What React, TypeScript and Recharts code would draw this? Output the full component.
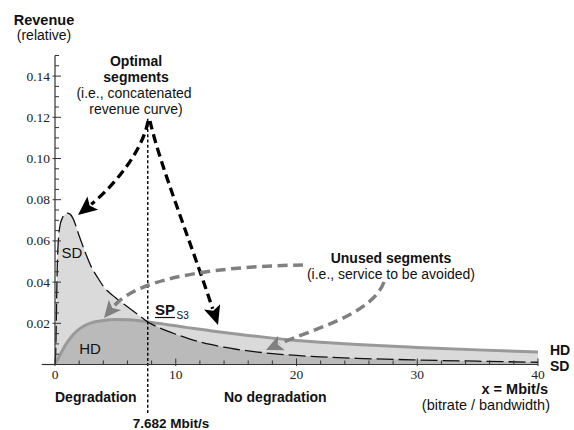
import React from 'react';
import { ComposedChart, Area, Line, XAxis, YAxis, ReferenceLine } from 'recharts';

// bitrate / bandwidth (Mbit/s)
const xValues = [0, 0.05, 0.1, 0.15, 0.2, 0.3, 0.4, 0.6, 0.8, 1, 1.25, 1.5, 2, 2.5, 3, 3.5, 4, 5, 6, 7, 7.682, 8, 9, 10, 11, 12, 13, 14, 15, 16, 18, 20, 22, 25, 30, 35, 40];
// SD revenue (relative)
const sdRevenue = [0, 0.004, 0.018, 0.037, 0.05, 0.062, 0.067, 0.071, 0.0728, 0.0735, 0.073, 0.0708, 0.0625, 0.0545, 0.0475, 0.0425, 0.038, 0.0325, 0.028, 0.0237, 0.0206, 0.0196, 0.0169, 0.0147, 0.0127, 0.011, 0.0096, 0.0084, 0.0074, 0.0066, 0.0053, 0.0044, 0.0037, 0.003, 0.0022, 0.0016, 0.0011];
// HD revenue (relative)
const hdRevenue = [0, 0.0005, 0.0011, 0.0017, 0.0022, 0.0034, 0.0045, 0.0067, 0.0088, 0.0106, 0.0127, 0.0145, 0.0172, 0.019, 0.0202, 0.0209, 0.0214, 0.0218, 0.0217, 0.0212, 0.0207, 0.0204, 0.0196, 0.0188, 0.0179, 0.0171, 0.0163, 0.0155, 0.0148, 0.0141, 0.0128, 0.0117, 0.0108, 0.0097, 0.0083, 0.0071, 0.0061];

const xTicks = [0, 2, 4, 6, 8, 10, 12, 14, 16, 18, 20, 22, 24, 26, 28, 30, 32, 34, 36, 38, 40];
const xMajorTicks = [0, 10, 20, 30, 40];
const yTicks = [0, 0.005, 0.01, 0.015, 0.02, 0.025, 0.03, 0.035, 0.04, 0.045, 0.05, 0.055, 0.06, 0.065, 0.07, 0.075, 0.08, 0.085, 0.09, 0.095, 0.1, 0.105, 0.11, 0.115, 0.12, 0.125, 0.13, 0.135, 0.14, 0.145, 0.15];
const yMajorTicks = [0.02, 0.04, 0.06, 0.08, 0.1, 0.12, 0.14];
const yMajorLabels = ['0.02', '0.04', '0.06', '0.08', '0.10', '0.12', '0.14'];
const switchPoint = 7.682;

const data = xValues.map((x, i) => ({ x, sd: sdRevenue[i], hd: hdRevenue[i] }));

const SERIF = '"Liberation Serif", "DejaVu Serif", serif';
const SANS = '"Liberation Sans", Arial, Helvetica, sans-serif';
const AXIS = '#333';

const XTick = (props: any) => {
  const { x, y, payload } = props;
  const v = payload.value;
  const major = xMajorTicks.some((m) => Math.abs(m - v) < 1e-9);
  return (
    <g>
      <line x1={x} x2={x} y1={major ? y + 1.5 : y} y2={y - (major ? 6 : 4)} stroke={AXIS} strokeWidth={1} />
      {major && (
        <text x={x} y={y + 14.5} textAnchor="middle" fontFamily={SERIF} fontSize={13.5} fill="#222">
          {String(v)}
        </text>
      )}
    </g>
  );
};

const YTick = (props: any) => {
  const { x, y, payload } = props;
  const v = payload.value;
  const idx = yMajorTicks.findIndex((m) => Math.abs(m - v) < 1e-9);
  const major = idx >= 0;
  return (
    <g>
      <line x1={major ? x - 2.5 : x} x2={x + (major ? 6 : 4)} y1={y} y2={y} stroke={AXIS} strokeWidth={1} />
      {major && (
        <text x={x - 5} y={y + 4.5} textAnchor="end" fontFamily={SERIF} fontSize={13.5} fill="#222">
          {yMajorLabels[idx]}
        </text>
      )}
    </g>
  );
};

type Pt = [number, number];
const Arrow = ({ p0, c1, c2, tip, color, width, dash, headLen, headHalf }: { p0: Pt; c1: Pt; c2: Pt; tip: Pt; color: string; width: number; dash: string; headLen: number; headHalf: number }) => {
  const dx = tip[0] - c2[0];
  const dy = tip[1] - c2[1];
  const L = Math.hypot(dx, dy);
  const ux = dx / L;
  const uy = dy / L;
  const bx = tip[0] - ux * headLen;
  const by = tip[1] - uy * headLen;
  const px = -uy;
  const py = ux;
  const d = `M${p0[0]},${p0[1]} C${c1[0]},${c1[1]} ${c2[0]},${c2[1]} ${bx + ux * 2},${by + uy * 2}`;
  return (
    <g>
      <path d={d} fill="none" stroke={color} strokeWidth={width} strokeDasharray={dash} />
      <polygon
        points={`${tip[0]},${tip[1]} ${bx + px * headHalf},${by + py * headHalf} ${bx + ux * 4},${by + uy * 4} ${bx - px * headHalf},${by - py * headHalf}`}
        fill={color}
      />
    </g>
  );
};

export default function App() {
  return (
    <div style={{ position: 'absolute', left: 0, top: 0, width: 574, height: 430, background: '#fff' }}>
      <ComposedChart width={574} height={430} data={data} margin={{ top: 55.5, right: 36, bottom: 45.5, left: 25 }}>
        <XAxis
          dataKey="x"
          type="number"
          domain={[0, 40]}
          ticks={xTicks}
          interval={0}
          tickSize={0}
          tickMargin={0}
          tickLine={false}
          height={20}
          axisLine={{ stroke: AXIS, strokeWidth: 1.2 }}
          tick={<XTick />}
          allowDataOverflow
        />
        <YAxis
          type="number"
          domain={[0, 0.15]}
          ticks={yTicks}
          interval={0}
          tickSize={0}
          tickMargin={0}
          tickLine={false}
          width={30}
          axisLine={{ stroke: AXIS, strokeWidth: 1.2 }}
          tick={<YTick />}
          allowDataOverflow
        />
        <Area dataKey="sd" type="monotone" stroke="none" fill="#000" fillOpacity={0.145} isAnimationActive={false} />
        <Area dataKey="hd" type="monotone" stroke="none" fill="#000" fillOpacity={0.145} isAnimationActive={false} />
        <Line dataKey="hd" type="monotone" stroke="#999" strokeWidth={3} dot={false} isAnimationActive={false} />
        <Line dataKey="sd" type="monotone" stroke="#111" strokeWidth={1.3} strokeDasharray="17 5" dot={false} isAnimationActive={false} />
        <ReferenceLine
          segment={[{ x: switchPoint, y: -0.0235 }, { x: switchPoint, y: 0.1195 }]}
          ifOverflow="visible"
          stroke="#000"
          strokeWidth={1.4}
          strokeDasharray="3 2.2"
        />
        <ReferenceLine
          segment={[{ x: -1.1, y: 0 }, { x: 0, y: 0 }]}
          ifOverflow="visible"
          stroke={AXIS}
          strokeWidth={1.2}
        />
      </ComposedChart>
      <svg width={574} height={430} style={{ position: 'absolute', left: 0, top: 0, pointerEvents: 'none' }}>
        <g fontFamily={SANS} fill="#111">
          <text x={44} y={25} textAnchor="middle" fontWeight="bold" fontSize={14.5}>Revenue</text>
          <text x={44} y={40} textAnchor="middle" fontSize={14}>(relative)</text>

          <text x={136} y={66} textAnchor="middle" fontWeight="bold" fontSize={14}>Optimal</text>
          <text x={136} y={82} textAnchor="middle" fontWeight="bold" fontSize={14}>segments</text>
          <text x={134} y={98} textAnchor="middle" fontSize={14}>(i.e., concatenated</text>
          <text x={136} y={114} textAnchor="middle" fontSize={14}>revenue curve)</text>

          <text x={72} y={258} textAnchor="middle" fontSize={15}>SD</text>
          <text x={90} y={354} textAnchor="middle" fontSize={15}>HD</text>

          <text x={155} y={315} fontWeight="bold" fontSize={15}>SP</text>
          <line x1={155} x2={175} y1={317.5} y2={317.5} stroke="#111" strokeWidth={1.2} />
          <text x={176.5} y={318.5} fontSize={10}>S3</text>

          <text x={391} y={263} textAnchor="middle" fontWeight="bold" fontSize={14}>Unused segments</text>
          <text x={391} y={279} textAnchor="middle" fontSize={14}>(i.e., service to be avoided)</text>

          <text x={550} y={355} fontWeight="bold" fontSize={14}>HD</text>
          <text x={550} y={370.5} fontWeight="bold" fontSize={14}>SD</text>

          <text x={548} y={394} textAnchor="end" fontWeight="bold" fontSize={14.5}>x = Mbit/s</text>
          <text x={550} y={409.5} textAnchor="end" fontSize={14.5}>(bitrate / bandwidth)</text>

          <text x={55} y={401.5} fontWeight="bold" fontSize={14}>Degradation</text>
          <text x={224} y={401.5} fontWeight="bold" fontSize={14}>No degradation</text>
          <text x={171} y={427.5} textAnchor="middle" fontWeight="bold" fontSize={13.5}>7.682 Mbit/s</text>
        </g>

        <Arrow p0={[148, 121]} c1={[143, 150]} c2={[115, 185]} tip={[78, 215]} color="#000" width={3.3} dash="9 5" headLen={19} headHalf={8.5} />
        <Arrow p0={[150, 121]} c1={[160, 165]} c2={[190, 240]} tip={[218, 325]} color="#000" width={3.3} dash="9 5" headLen={19} headHalf={8.5} />
        <Arrow p0={[303, 265]} c1={[230, 266]} c2={[140, 275]} tip={[104, 318]} color="#808080" width={3.5} dash="10 5.5" headLen={17} headHalf={8} />
        <Arrow p0={[384, 282]} c1={[372, 315]} c2={[310, 330]} tip={[266, 350]} color="#808080" width={3.5} dash="10 5.5" headLen={17} headHalf={8} />
      </svg>
    </div>
  );
}
